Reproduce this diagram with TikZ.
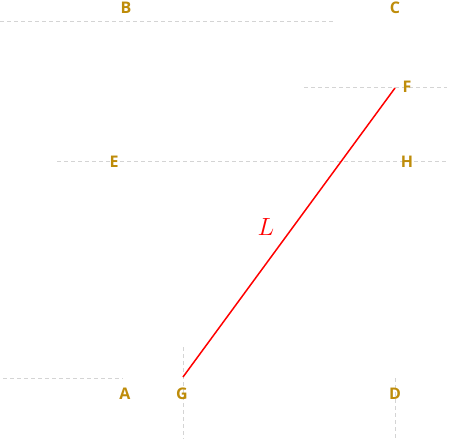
\documentclass[tikz,border=0pt]{standalone}
\usepackage{fontspec}
\newfontfamily\lblfont{Open Sans}
\definecolor{lblcol}{RGB}{190,140,10}
\definecolor{guidecol}{RGB}{212,212,212}
\begin{document}
\begin{tikzpicture}[x=1pt,y=-1pt,
  lbl/.style={text=lblcol,font=\lblfont\bfseries\fontsize{16}{18}\selectfont,inner sep=0pt,anchor=center},
  guide/.style={draw=guidecol,line width=0.9pt,dash pattern=on 4pt off 3pt},
  seg/.style={draw=red,line width=1.5pt}]
\useasboundingbox (0,0) rectangle (455,439);
% guide lines
\coordinate (b1) at (0,21);   \coordinate (b2) at (335,21);
\coordinate (f1) at (304,87); \coordinate (f2) at (447,87);
\coordinate (e1) at (57,161); \coordinate (e2) at (447,161);
\coordinate (a1) at (3,378);  \coordinate (a2) at (123,378);
\coordinate (g1) at (183,347); \coordinate (g2) at (183,439);
\coordinate (d1) at (395,378); \coordinate (d2) at (395,439);
\draw[guide] (b1) -- (b2);
\draw[guide] (f1) -- (f2);
\draw[guide] (e1) -- (e2);
\draw[guide] (a1) -- (a2);
\draw[guide] (g1) -- (g2);
\draw[guide] (d1) -- (d2);
% labels
\node[lbl] (B) at (126,8) {B};
\node[lbl] (C) at (395,8) {C};
\node[lbl] (F) at (407,87) {F};
\node[lbl] (E) at (114,162) {E};
\node[lbl] (H) at (407,162) {H};
\node[lbl] (A) at (125,394) {A};
\node[lbl] (G) at (182,394) {G};
\node[lbl] (D) at (395,394) {D};
% segment
\coordinate (p) at (183,377);
\coordinate (q) at (395,88);
\draw[seg] (p) -- (q);
\node[text=red,font=\fontsize{25}{27}\selectfont] (L) at (266,227) {$L$};
\end{tikzpicture}
\end{document}
